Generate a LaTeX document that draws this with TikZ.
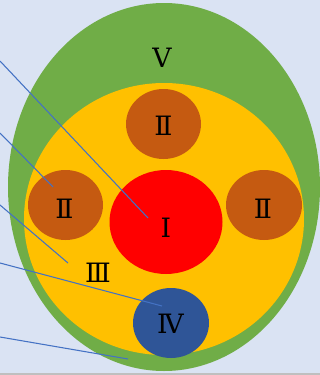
\documentclass[tikz,border=0pt]{standalone}
\usepackage{fontspec}
\setmainfont{DejaVu Serif}
\usetikzlibrary{shapes.geometric}

\definecolor{bgblue}{HTML}{DAE3F3}
\definecolor{leafgreen}{HTML}{70AD47}
\definecolor{sungold}{HTML}{FFC000}
\definecolor{rust}{HTML}{C55A11}
\definecolor{navy}{HTML}{2F5597}
\definecolor{leader}{HTML}{4472C4}

\begin{document}
\begin{tikzpicture}[
    x=0.75pt, y=-0.75pt,
    zone/.style={ellipse, inner sep=0pt, draw=none},
    numeral/.style={inner sep=0pt, font=\fontsize{20}{20}\selectfont},
    leaderline/.style={draw=leader, line width=0.8pt}
  ]
    \fill[bgblue] (0,0) rectangle (320,375);
    \useasboundingbox (0,0) rectangle (320,375);
    \draw[black!25, line width=1.2pt] (0,374.2) -- (320,374.2);
    % nested zones
    \node[zone, fill=leafgreen, minimum width=312*0.75pt, minimum height=368*0.75pt] (outer) at (164,187) {};
    \node[zone, fill=sungold, minimum width=280*0.75pt, minimum height=272*0.75pt] (middle) at (164,219) {};
    \node[zone, fill=rust, minimum width=75*0.75pt, minimum height=70*0.75pt] (topII) at (163.5,124) {};
    \node[zone, fill=rust, minimum width=75*0.75pt, minimum height=70*0.75pt] (leftII) at (65.5,205) {};
    \node[zone, fill=rust, minimum width=76*0.75pt, minimum height=70*0.75pt] (rightII) at (264,205) {};
    \node[zone, fill=red, minimum width=113*0.75pt, minimum height=104*0.75pt] (core) at (166,222) {};
    \node[zone, fill=navy, minimum width=76*0.75pt, minimum height=70*0.75pt] (lowIV) at (171,323) {};
    % numerals
    \node[numeral] (labV) at (162,57.5) {V};
    \node[numeral] (labtopII) at (163.5,126) {Ⅱ};
    \node[numeral] (lableftII) at (64.5,209) {Ⅱ};
    \node[numeral] (labrightII) at (263,209) {Ⅱ};
    \node[numeral] (labI) at (166,228) {Ⅰ};
    \node[numeral] (labIII) at (98,272.5) {Ⅲ};
    \node[numeral] (labIV) at (170.5,324) {Ⅳ};
    % leader lines
    \coordinate (a1) at (0,61);   \coordinate (b1) at (148,218);
    \coordinate (a2) at (0,133);  \coordinate (b2) at (53,187);
    \coordinate (a3) at (0,205);  \coordinate (b3) at (68,263);
    \coordinate (a4) at (0,263);  \coordinate (b4) at (162,306);
    \coordinate (a5) at (0,337);  \coordinate (b5) at (128,359);
    \foreach \i in {1,...,5}
      \draw[leaderline] (a\i) -- (b\i);
  \end{tikzpicture}
\end{document}
